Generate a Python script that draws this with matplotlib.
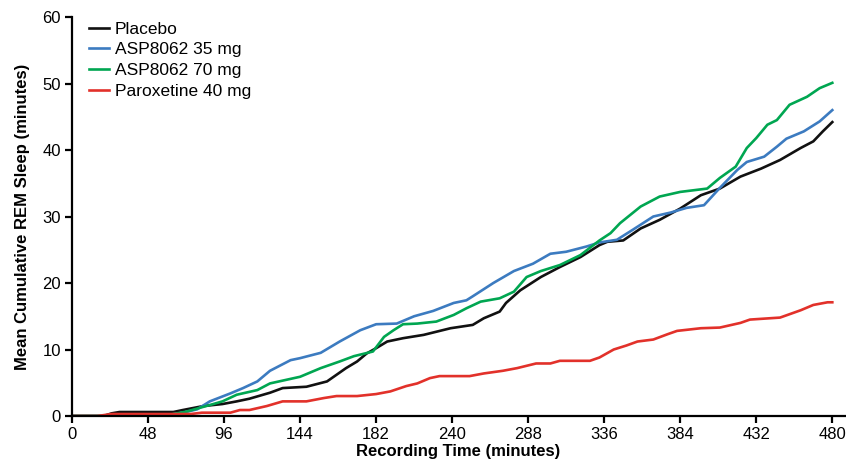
import matplotlib
matplotlib.use("Agg")
import matplotlib.pyplot as plt

placebo_t = [0, 20, 25, 30, 64, 70, 83, 95, 104, 112, 125, 133, 148, 161, 173, 180,
             186, 192, 199, 209, 222, 239, 253, 260, 270, 274, 283, 296, 308, 321,
             333, 338, 348, 359, 371, 384, 397, 409, 422, 435, 447, 460, 468, 474, 480]
placebo_v = [0, 0, 0.4, 0.6, 0.6, 0.9, 1.5, 1.8, 2.2, 2.6, 3.5, 4.2, 4.4, 5.2, 7.2, 8.2,
             9.4, 10.2, 11.2, 11.7, 12.2, 13.2, 13.7, 14.7, 15.7, 17.0, 18.9, 20.9, 22.4, 23.9,
             25.7, 26.2, 26.4, 28.2, 29.5, 31.2, 33.2, 34.2, 36.0, 37.2, 38.5, 40.3, 41.3, 42.8, 44.2]

asp35_t = [0, 57, 70, 79, 87, 100, 108, 117, 125, 138, 144, 157, 169, 182, 192, 205,
           216, 228, 241, 249, 253, 266, 279, 291, 302, 312, 325, 333, 344, 354, 367,
           378, 388, 399, 409, 420, 426, 437, 445, 451, 462, 472, 480]
asp35_v = [0, 0, 0.5, 1.0, 2.2, 3.4, 4.2, 5.2, 6.8, 8.4, 8.7, 9.5, 11.2, 12.9, 13.8, 13.9,
           15.0, 15.8, 17.0, 17.4, 18.0, 20.0, 21.8, 22.9, 24.4, 24.7, 25.5, 26.1, 26.5, 28.0, 30.0,
           30.6, 31.3, 31.7, 34.3, 37.0, 38.2, 39.0, 40.5, 41.7, 42.8, 44.3, 46.0]

asp70_t = [0, 57, 72, 87, 95, 104, 117, 125, 144, 157, 169, 178, 190, 197, 203, 209,
           218, 230, 241, 249, 258, 270, 279, 287, 296, 308, 321, 333, 340, 346, 359,
           371, 384, 401, 409, 419, 426, 432, 439, 445, 453, 464, 472, 480]
asp70_v = [0, 0, 0.65, 1.65, 2.2, 3.2, 3.9, 4.9, 5.9, 7.2, 8.2, 9.0, 9.7, 11.9, 12.9, 13.8,
           13.9, 14.2, 15.2, 16.2, 17.2, 17.7, 18.7, 20.9, 21.8, 22.7, 24.2, 26.4, 27.5, 29.0, 31.5,
           33.0, 33.7, 34.2, 35.8, 37.5, 40.3, 41.8, 43.8, 44.5, 46.8, 48.0, 49.3, 50.1]

parox_t = [0, 16, 25, 75, 82, 100, 106, 112, 123, 133, 148, 159, 167, 180, 192, 201,
           211, 218, 226, 232, 251, 260, 272, 281, 293, 302, 308, 327, 333, 342, 350,
           357, 367, 376, 382, 397, 409, 422, 428, 447, 460, 468, 477, 480]
parox_v = [0, 0, 0.3, 0.3, 0.5, 0.5, 0.9, 0.9, 1.5, 2.2, 2.2, 2.7, 3.0, 3.0, 3.3, 3.7,
           4.5, 4.9, 5.7, 6.0, 6.0, 6.4, 6.8, 7.2, 7.9, 7.9, 8.3, 8.3, 8.8, 10.0, 10.6,
           11.2, 11.5, 12.3, 12.8, 13.2, 13.3, 14.0, 14.5, 14.8, 15.9, 16.7, 17.1, 17.1]

x_ticks = [0, 48, 96, 144, 192, 240, 288, 336, 384, 432, 480]
x_tick_labels = ["0", "48", "96", "144", "182", "240", "288", "336", "384", "432", "480"]
y_ticks = [0, 10, 20, 30, 40, 50, 60]

plt.rcParams["font.family"] = ["Liberation Sans", "DejaVu Sans"]

fig = plt.figure(figsize=(8.46, 4.61), dpi=100)
ax = fig.add_axes([0.0851, 0.0976, 0.9137, 0.8655])

lw = 1.9
ax.plot(placebo_t, placebo_v, color="#111111", lw=lw, label="Placebo")
ax.plot(asp35_t, asp35_v, color="#3c7bc0", lw=lw, label="ASP8062 35 mg")
ax.plot(asp70_t, asp70_v, color="#00a651", lw=lw, label="ASP8062 70 mg")
ax.plot(parox_t, parox_v, color="#e2312a", lw=lw, label="Paroxetine 40 mg")

ax.set_xlim(0, 488)
ax.set_ylim(0, 60)
ax.set_xticks(x_ticks)
ax.set_xticklabels(x_tick_labels)
ax.set_yticks(y_ticks)

for side in ("top", "right"):
    ax.spines[side].set_visible(False)
for side in ("left", "bottom"):
    ax.spines[side].set_linewidth(1.6)
ax.tick_params(direction="out", length=5, width=1.6, labelsize=12, pad=3)

ax.set_xlabel("Recording Time (minutes)", fontsize=12, fontweight="bold", labelpad=1)
ax.set_ylabel("Mean Cumulative REM Sleep (minutes)", fontsize=12, fontweight="bold", labelpad=9)

ax.legend(loc="upper left", bbox_to_anchor=(0.008, 1.015), frameon=False,
          fontsize=12.5, handlelength=1.2, handletextpad=0.3, labelspacing=0.33,
          borderaxespad=0.2)

fig.savefig("out.png", dpi=100)
